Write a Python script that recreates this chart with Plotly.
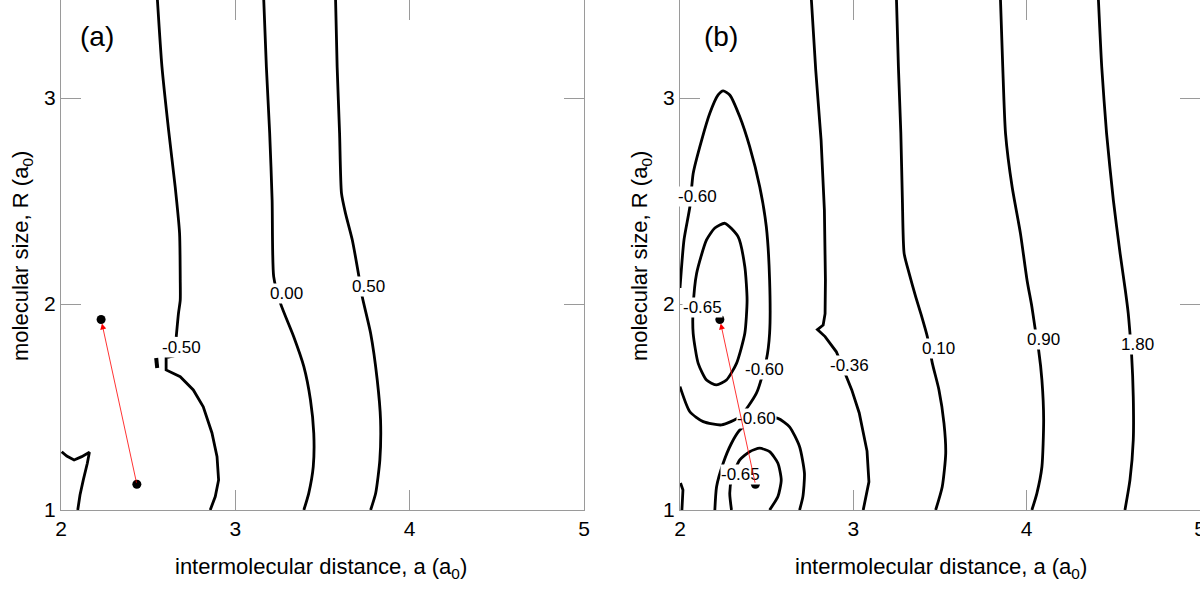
import plotly.graph_objects as go

# ---------------- data: panel (a) ----------------
# contour -0.50 (upper branch)
a_m050_top_x = [2.553, 2.579, 2.617, 2.655, 2.680, 2.684, 2.684, 2.674, 2.661]
a_m050_top_y = [3.476, 3.152, 2.845, 2.569, 2.345, 2.117, 2.019, 1.956, 1.841]
# contour -0.50 (lower branch)
a_m050_low_x = [2.649, 2.603, 2.603, 2.684, 2.759, 2.816, 2.866, 2.895, 2.904, 2.885, 2.856]
a_m050_low_y = [1.748, 1.740, 1.680, 1.647, 1.583, 1.501, 1.374, 1.259, 1.146, 1.065, 1.000]
# small -0.50 island
a_m050_isl_x = [2.546, 2.552]
a_m050_isl_y = [1.738, 1.689]
# contour 0.00
a_000_x = [3.163, 3.178, 3.197, 3.211, 3.220, 3.259, 3.335, 3.393, 3.431, 3.450, 3.447, 3.421, 3.393]
a_000_y = [3.476, 3.152, 2.829, 2.505, 2.133, 2.003, 1.841, 1.696, 1.534, 1.372, 1.210, 1.081, 1.000]
# contour 0.50
a_050_x = [3.575, 3.584, 3.598, 3.609, 3.632, 3.671, 3.709, 3.728, 3.776, 3.814, 3.833, 3.829, 3.805, 3.776]
a_050_y = [3.476, 3.152, 2.829, 2.537, 2.440, 2.311, 2.133, 2.035, 1.858, 1.631, 1.437, 1.243, 1.081, 1.000]
# bottom-left contour
a_bl_x = [2.004, 2.033, 2.075, 2.119, 2.163, 2.151, 2.128, 2.109, 2.096]
a_bl_y = [1.283, 1.262, 1.243, 1.259, 1.280, 1.227, 1.146, 1.073, 1.000]

a_label_text = ["-0.50", "0.00", "0.50"]
a_label_x = [2.690, 3.296, 3.761]
a_label_y = [1.788, 2.053, 2.085]

# ---------------- data: panel (b) ----------------
b_up_outer_x = [2.000, 2.023, 2.057, 2.076, 2.125, 2.172, 2.220, 2.249, 2.287, 2.345, 2.402, 2.460,
                2.498, 2.517, 2.517, 2.498, 2.441, 2.345, 2.240, 2.134, 2.057, 2.000]
b_up_outer_y = [2.078, 2.311, 2.472, 2.634, 2.796, 2.926, 3.015, 3.035, 3.015, 2.909, 2.764, 2.569,
                2.375, 2.117, 1.858, 1.728, 1.567, 1.453, 1.413, 1.429, 1.477, 1.599]
b_up_inner_x = [2.259, 2.335, 2.374, 2.387, 2.374, 2.326, 2.268, 2.211, 2.153, 2.105, 2.076, 2.076,
                2.096, 2.153, 2.201, 2.259]
b_up_inner_y = [2.392, 2.327, 2.181, 2.019, 1.858, 1.712, 1.631, 1.607, 1.631, 1.712, 1.858, 1.987,
                2.149, 2.311, 2.369, 2.392]
b_lo_outer_x = [2.201, 2.211, 2.249, 2.297, 2.345, 2.441, 2.565, 2.632, 2.690, 2.718, 2.709, 2.690]
b_lo_outer_y = [1.000, 1.113, 1.227, 1.324, 1.388, 1.447, 1.445, 1.404, 1.307, 1.178, 1.065, 1.000]
b_lo_inner_x = [2.297, 2.287, 2.299, 2.345, 2.402, 2.460, 2.517, 2.565, 2.584, 2.565, 2.517]
b_lo_inner_y = [1.000, 1.081, 1.155, 1.243, 1.283, 1.300, 1.283, 1.227, 1.146, 1.065, 1.000]
b_edge_x = [2.003, 2.017, 2.011]
b_edge_y = [1.131, 1.097, 1.000]
b_m036_x = [2.758, 2.783, 2.814, 2.833, 2.839, 2.837, 2.826, 2.793, 2.837, 2.902, 2.991, 3.034,
            3.079, 3.090, 3.057]
b_m036_y = [3.476, 3.136, 2.796, 2.456, 2.117, 1.953, 1.898, 1.876, 1.842, 1.768, 1.583, 1.471,
            1.286, 1.137, 1.000]
b_010_x = [3.249, 3.260, 3.274, 3.283, 3.293, 3.322, 3.360, 3.389, 3.427, 3.456, 3.494, 3.523,
           3.533, 3.513, 3.475]
b_010_y = [3.476, 3.152, 2.829, 2.505, 2.246, 2.149, 2.035, 1.955, 1.841, 1.712, 1.583, 1.421,
           1.275, 1.113, 1.000]
b_090_x = [3.849, 3.862, 3.878, 3.916, 3.964, 4.002, 4.030, 4.050, 4.069, 4.088, 4.098, 4.088,
           4.059, 4.030]
b_090_y = [3.476, 3.152, 2.829, 2.569, 2.343, 2.117, 1.987, 1.874, 1.777, 1.631, 1.437, 1.210,
           1.081, 1.000]
b_180_x = [4.414, 4.433, 4.461, 4.500, 4.539, 4.569, 4.586, 4.596, 4.605, 4.615, 4.615, 4.596, 4.567]
b_180_y = [3.476, 3.152, 2.829, 2.505, 2.246, 2.068, 1.955, 1.858, 1.761, 1.550, 1.340, 1.146, 1.000]

b_label_text = ["-0.60", "-0.65", "-0.60", "-0.60", "-0.65", "-0.36", "0.10", "0.90", "1.80"]
b_label_x = [2.103, 2.129, 2.485, 2.441, 2.349, 2.975, 3.492, 4.096, 4.639]
b_label_y = [2.524, 1.982, 1.681, 1.443, 1.174, 1.703, 1.783, 1.829, 1.805]

# stationary points (same in both panels)
pts_x = [2.230, 2.435]
pts_y = [1.925, 1.125]

x_ticks = [2, 3, 4, 5]
y_ticks = [1, 2, 3]
x_range = [2, 5]
y_range = [1, 3.476]

# ---------------- figure ----------------
FONT = "Liberation Sans, Arial, Helvetica, sans-serif"
fig = go.Figure()

def add_line(xs, ys, xa, ya, shape="spline", width=2.8):
    fig.add_trace(go.Scatter(x=xs, y=ys, mode="lines", xaxis=xa, yaxis=ya,
                             line=dict(color="black", width=width, shape=shape,
                                       smoothing=0.6 if shape == "spline" else None),
                             hoverinfo="skip"))

# panel a
add_line(a_m050_top_x, a_m050_top_y, "x", "y")
add_line(a_m050_low_x, a_m050_low_y, "x", "y", shape="linear")
add_line(a_m050_isl_x, a_m050_isl_y, "x", "y", shape="linear", width=4)
add_line(a_000_x, a_000_y, "x", "y")
add_line(a_050_x, a_050_y, "x", "y")
add_line(a_bl_x, a_bl_y, "x", "y", shape="linear")
# panel b
add_line(b_up_outer_x, b_up_outer_y, "x2", "y2")
add_line(b_up_inner_x, b_up_inner_y, "x2", "y2")
add_line(b_lo_outer_x, b_lo_outer_y, "x2", "y2")
add_line(b_lo_inner_x, b_lo_inner_y, "x2", "y2")
add_line(b_edge_x, b_edge_y, "x2", "y2", shape="linear")
add_line(b_m036_x, b_m036_y, "x2", "y2", shape="linear")
add_line(b_010_x, b_010_y, "x2", "y2")
add_line(b_090_x, b_090_y, "x2", "y2")
add_line(b_180_x, b_180_y, "x2", "y2")

for xa, ya in [("x", "y"), ("x2", "y2")]:
    fig.add_trace(go.Scatter(x=pts_x, y=pts_y, mode="markers", xaxis=xa, yaxis=ya,
                             marker=dict(color="black", size=9), hoverinfo="skip"))

annotations = []
for t, x, y in zip(a_label_text, a_label_x, a_label_y):
    annotations.append(dict(x=x, y=y, xref="x", yref="y", text=t, showarrow=False,
                            xanchor="center", yanchor="middle",
                            font=dict(family=FONT, size=17, color="black"),
                            bgcolor="white", borderpad=0))
for t, x, y in zip(b_label_text, b_label_x, b_label_y):
    annotations.append(dict(x=x, y=y, xref="x2", yref="y2", text=t, showarrow=False,
                            xanchor="center", yanchor="middle",
                            font=dict(family=FONT, size=17, color="black"),
                            bgcolor="white", borderpad=0))

# arrows between the two points
for xr, yr in [("x", "y"), ("x2", "y2")]:
    annotations.append(dict(x=pts_x[0], y=pts_y[0], ax=pts_x[1], ay=pts_y[1],
                            xref=xr, yref=yr, axref=xr, ayref=yr, text="",
                            showarrow=True, arrowhead=2, arrowsize=1.5, arrowwidth=0.8,
                            arrowcolor="red", standoff=4))

# panel tags
annotations.append(dict(x=96.5 / 1200, y=1 - 36 / 600, xref="paper", yref="paper", text="(a)",
                        showarrow=False, xanchor="center", yanchor="middle",
                        font=dict(family=FONT, size=28, color="black")))
annotations.append(dict(x=720.5 / 1200, y=1 - 36 / 600, xref="paper", yref="paper", text="(b)",
                        showarrow=False, xanchor="center", yanchor="middle",
                        font=dict(family=FONT, size=28, color="black")))

# axis titles
xt = "intermolecular distance, a (a<sub>0</sub>)"
yt = "molecular size, R (a<sub>0</sub>)"
for xc in [321 / 1200, 941 / 1200]:
    annotations.append(dict(x=xc, y=1 - 568 / 600, xref="paper", yref="paper", text=xt,
                            showarrow=False, xanchor="center", yanchor="middle",
                            font=dict(family=FONT, size=22, color="black")))
for xc in [22 / 1200, 641 / 1200]:
    annotations.append(dict(x=xc, y=1 - 256 / 600, xref="paper", yref="paper", text=yt,
                            showarrow=False, xanchor="center", yanchor="middle",
                            textangle=-90, font=dict(family=FONT, size=22, color="black")))

axis_common = dict(showline=True, linecolor="#9a9a9a", linewidth=1, mirror="ticks",
                   ticks="inside", ticklen=20, tickcolor="#9a9a9a", tickwidth=1,
                   showgrid=False, zeroline=False, automargin=False,
                   ticklabeloverflow="allow",
                   tickfont=dict(family=FONT, size=21, color="black"))

fig.update_layout(
    template="none",
    width=1200, height=600,
    margin=dict(l=0, r=0, t=0, b=0, pad=0, autoexpand=False),
    paper_bgcolor="white", plot_bgcolor="white",
    showlegend=False,
    font=dict(family=FONT, color="black"),
    xaxis=dict(domain=[61 / 1200, 584 / 1200], range=x_range, tickvals=x_ticks, anchor="y", **axis_common),
    yaxis=dict(domain=[0.15, 1.0], range=y_range, tickvals=y_ticks, anchor="x", **axis_common),
    xaxis2=dict(domain=[680 / 1200, 1.0], range=x_range, tickvals=x_ticks, anchor="y2", **axis_common),
    yaxis2=dict(domain=[0.15, 1.0], range=y_range, tickvals=y_ticks, anchor="x2", **axis_common),
    annotations=annotations,
)

fig.write_html("out.html")
